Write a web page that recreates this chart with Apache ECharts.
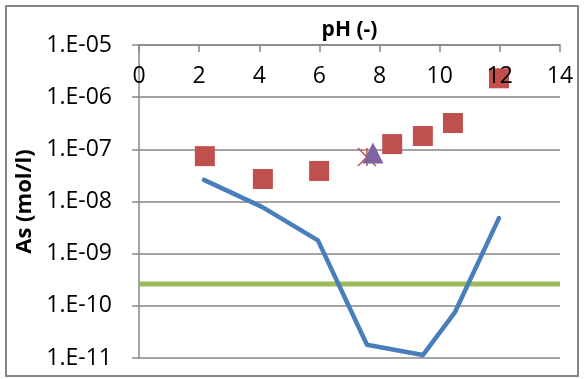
<!DOCTYPE html>
<html>
<head>
<meta charset="utf-8">
<script src="https://cdn.jsdelivr.net/npm/echarts@6/dist/echarts.min.js"></script>
<style>
  html, body { margin: 0; padding: 0; background: #fff; }
  #chart { width: 584px; height: 379px; }
</style>
</head>
<body>
<div id="chart"></div>
<script>
// Arsenic concentration versus pH (log scale)
const xTicks = [0, 2, 4, 6, 8, 10, 12, 14];

// measured As (squares)
const measuredPH = [2.19, 4.12, 5.99, 8.42, 9.44, 10.44, 11.97];
const measuredAs = [7.4e-8, 2.7e-8, 3.85e-8, 1.26e-7, 1.8e-7, 3.2e-7, 2.3e-6];

// modelled solubility curve
const modelPH = [2.16, 4.09, 5.95, 7.58, 9.44, 10.51, 11.97];
const modelAs = [2.6e-8, 7.9e-9, 1.8e-9, 1.8e-11, 1.14e-11, 7.6e-11, 4.8e-9];

// reference level
const limitPH = [0, 14];
const limitAs = [2.62e-10, 2.62e-10];

// single extra points
const trianglePoint = [7.78, 8.5e-8];
const starPoint = [7.58, 7.1e-8];

const FONT = 'Open Sans';
const GRAY = '#868686';

const zip = (xs, ys) => xs.map((x, i) => [x, ys[i]]);

const chart = echarts.init(document.getElementById('chart'));
chart.setOption({
  animation: false,
  backgroundColor: '#fff',
  graphic: [{
    type: 'rect',
    shape: { x: 6, y: 6, width: 572, height: 370 },
    style: { fill: 'none', stroke: GRAY, lineWidth: 2 },
    silent: true
  }],
  grid: { left: 139, top: 45, width: 421, height: 313 },
  xAxis: {
    type: 'value',
    position: 'top',
    min: xTicks[0],
    max: xTicks[xTicks.length - 1],
    interval: 2,
    z: 5,
    name: 'pH (-)',
    nameLocation: 'middle',
    nameGap: 4,
    nameTextStyle: { fontFamily: FONT, fontWeight: 'bold', fontSize: 21, color: '#000' },
    axisLine: { show: true, lineStyle: { color: GRAY, width: 1.5 } },
    axisTick: { show: true, inside: true, length: 7, lineStyle: { color: GRAY, width: 1.5 } },
    axisLabel: { inside: true, margin: 20, fontFamily: FONT, fontSize: 23, color: '#000' },
    splitLine: { show: false }
  },
  yAxis: {
    type: 'log',
    logBase: 10,
    min: 1e-11,
    max: 1e-5,
    interval: 1,
    name: 'As (mol/l)',
    nameLocation: 'middle',
    nameGap: 96,
    nameTextStyle: { fontFamily: FONT, fontWeight: 'bold', fontSize: 22, color: '#000' },
    axisLine: { show: true, lineStyle: { color: GRAY, width: 1.5 } },
    axisTick: { show: true, length: 7, lineStyle: { color: GRAY, width: 1.5 } },
    axisLabel: {
      margin: 27,
      fontFamily: FONT,
      fontSize: 23,
      color: '#000',
      formatter: v => {
        const e = Math.round(Math.log10(v));
        return '1.E-' + String(-e).padStart(2, '0');
      }
    },
    splitLine: { show: true, lineStyle: { color: GRAY, width: 1.5 } }
  },
  series: [
    {
      type: 'line',
      data: zip(limitPH, limitAs),
      showSymbol: false,
      lineStyle: { color: '#9bbb59', width: 5 },
      z: 2
    },
    {
      type: 'line',
      data: zip(modelPH, modelAs),
      showSymbol: false,
      lineStyle: { color: '#4a7ebb', width: 4.5, join: 'round', cap: 'round' },
      z: 3
    },
    {
      type: 'scatter',
      data: zip(measuredPH, measuredAs),
      symbol: 'rect',
      symbolSize: 20,
      itemStyle: { color: '#c0504d', opacity: 1 },
      z: 4
    },
    {
      type: 'scatter',
      data: [starPoint],
      symbol: 'path://M0,0L10,10M10,0L0,10M5,0L5,10',
      symbolSize: 18,
      itemStyle: { color: 'none', borderColor: '#c0504d', borderWidth: 1.5, opacity: 1 },
      z: 4
    },
    {
      type: 'scatter',
      data: [trianglePoint],
      symbol: 'triangle',
      symbolSize: 21,
      itemStyle: { color: '#8064a2', opacity: 1 },
      z: 4
    }
  ]
});
</script>
</body>
</html>
